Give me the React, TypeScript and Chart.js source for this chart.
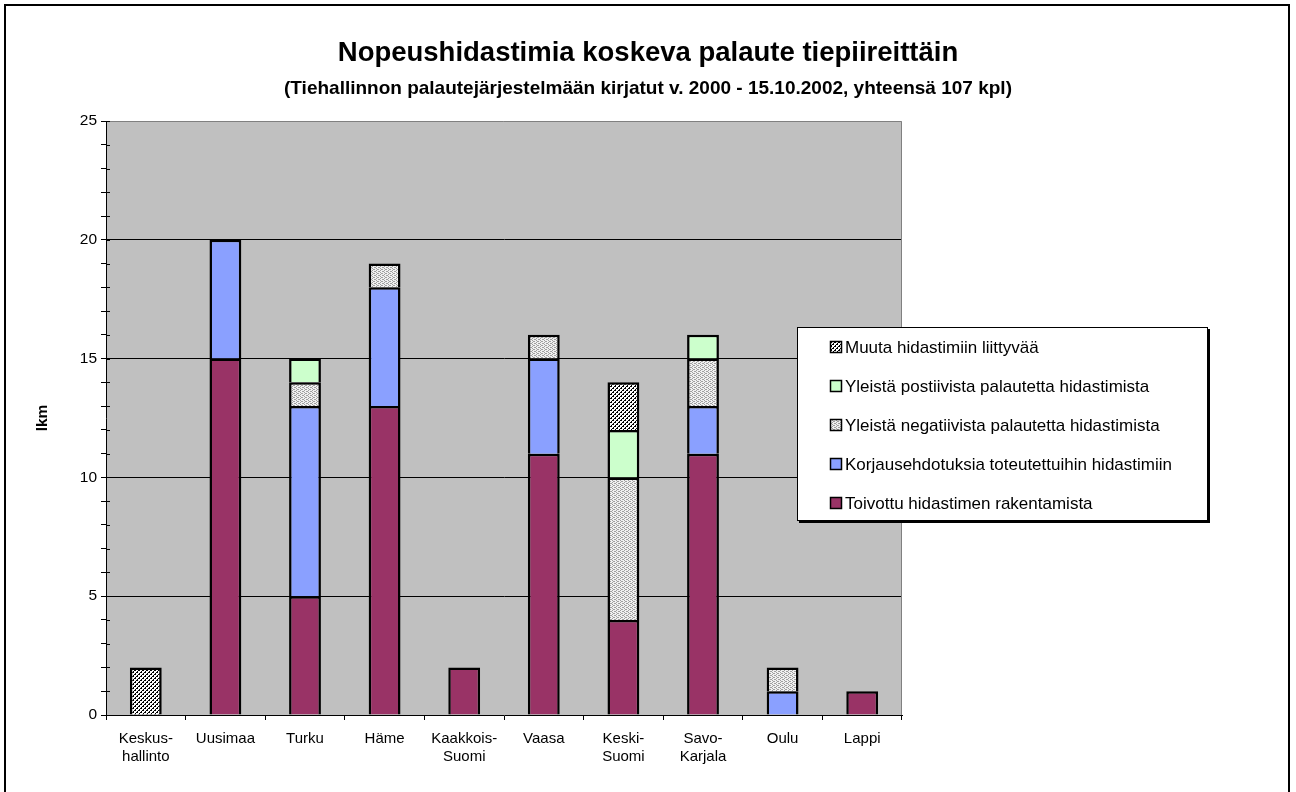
import React, { useEffect, useRef } from 'react';
import { Chart, registerables } from 'chart.js';

Chart.register(...registerables);

const categories: (string | string[])[] = [
  ['Keskus-', 'hallinto'],
  'Uusimaa',
  'Turku',
  'Häme',
  ['Kaakkois-', 'Suomi'],
  'Vaasa',
  ['Keski-', 'Suomi'],
  ['Savo-', 'Karjala'],
  'Oulu',
  'Lappi',
];

const toivottu = [0, 15, 5, 13, 2, 11, 4, 11, 0, 1];
const korjaus = [0, 5, 8, 5, 0, 4, 0, 2, 1, 0];
const negatiivista = [0, 0, 1, 1, 0, 1, 6, 2, 1, 0];
const positiivista = [0, 0, 1, 0, 0, 0, 2, 1, 0, 0];
const muuta = [2, 0, 0, 0, 0, 0, 2, 0, 0, 0];

const seriesNames = [
  'Toivottu hidastimen rakentamista',
  'Korjausehdotuksia toteutettuihin hidastimiin',
  'Yleistä negatiivista palautetta hidastimista',
  'Yleistä postiivista palautetta hidastimista',
  'Muuta hidastimiin liittyvää',
];

const titleText = 'Nopeushidastimia koskeva palaute tiepiireittäin';
const subtitleText = '(Tiehallinnon palautejärjestelmään kirjatut v. 2000 - 15.10.2002, yhteensä 107 kpl)';
const yTitle = 'lkm';
const yMin = 0;
const yMax = 25;
const yMajor = 5;

const FONT = "'Liberation Sans', Arial, sans-serif";

function makeHatch(): CanvasPattern | string {
  const c = document.createElement('canvas');
  c.width = 4;
  c.height = 4;
  const g = c.getContext('2d');
  if (!g) return '#555';
  g.fillStyle = '#ffffff';
  g.fillRect(0, 0, 4, 4);
  g.fillStyle = '#000000';
  for (let y = 0; y < 4; y++) {
    for (let x = 0; x < 4; x++) {
      const k = (x + y) % 4;
      if (k === 0 || (k === 1 && y % 2 === 0)) g.fillRect(x, y, 1, 1);
    }
  }
  return g.createPattern(c, 'repeat') || '#555';
}

function makeDots(): CanvasPattern | string {
  const c = document.createElement('canvas');
  c.width = 4;
  c.height = 4;
  const g = c.getContext('2d');
  if (!g) return '#d8d8d8';
  g.fillStyle = '#f0f0f0';
  g.fillRect(0, 0, 4, 4);
  g.fillStyle = '#a0a0a0';
  g.fillRect(0, 0, 1, 1);
  g.fillRect(2, 1, 1, 1);
  g.fillRect(0, 2, 1, 1);
  g.fillRect(2, 3, 1, 1);
  g.fillRect(1, 1, 1, 1);
  g.fillRect(3, 3, 1, 1);
  return g.createPattern(c, 'repeat') || '#d8d8d8';
}

const decorPlugin = {
  id: 'decor',
  beforeDraw(chart: any) {
    const { ctx, chartArea } = chart;
    ctx.save();
    ctx.fillStyle = '#ffffff';
    ctx.fillRect(0, 0, chart.width, chart.height);
    ctx.fillStyle = '#c0c0c0';
    ctx.fillRect(chartArea.left, chartArea.top, chartArea.right - chartArea.left, chartArea.bottom - chartArea.top);
    ctx.restore();
  },
  afterDraw(chart: any) {
    const { ctx, chartArea } = chart;
    ctx.save();
    // plot border top/right
    ctx.strokeStyle = '#808080';
    ctx.lineWidth = 1;
    ctx.beginPath();
    ctx.moveTo(chartArea.left, chartArea.top + 0.5);
    ctx.lineTo(chartArea.right - 0.5, chartArea.top + 0.5);
    ctx.lineTo(chartArea.right - 0.5, chartArea.bottom);
    ctx.stroke();

    // inner half of y tick marks
    const ys = chart.scales.y;
    ctx.strokeStyle = '#000';
    ctx.beginPath();
    for (let v = yMin; v <= yMax; v++) {
      const py = Math.round(ys.getPixelForValue(v)) + 0.5;
      ctx.moveTo(chartArea.left, py);
      ctx.lineTo(chartArea.left + 4, py);
    }
    ctx.stroke();

    // outer frame
    ctx.strokeStyle = '#000';
    ctx.lineWidth = 2;
    ctx.strokeRect(5, 5, 1284, 800);

    // titles
    ctx.fillStyle = '#000';
    ctx.textAlign = 'center';
    ctx.textBaseline = 'alphabetic';
    ctx.font = `bold 27.5px ${FONT}`;
    ctx.fillText(titleText, 648, 61);
    ctx.font = `bold 19px ${FONT}`;
    ctx.fillText(subtitleText, 648, 94);

    // legend
    const lx = 797, ly = 327, lw = 411, lh = 194;
    ctx.fillStyle = '#000';
    ctx.fillRect(lx + 2, ly + 2, lw, lh);
    ctx.fillStyle = '#fff';
    ctx.fillRect(lx, ly, lw, lh);
    ctx.strokeStyle = '#000';
    ctx.lineWidth = 1;
    ctx.strokeRect(lx + 0.5, ly + 0.5, lw - 1, lh - 1);
    const ds = chart.data.datasets;
    ctx.font = `17px ${FONT}`;
    ctx.textAlign = 'left';
    ctx.textBaseline = 'middle';
    for (let i = 0; i < ds.length; i++) {
      const d = ds[ds.length - 1 - i];
      const cy = ly + 20 + i * 39;
      ctx.fillStyle = d.backgroundColor;
      ctx.fillRect(lx + 33, cy - 6, 12, 12);
      ctx.strokeStyle = '#000';
      ctx.lineWidth = 1.5;
      ctx.strokeRect(lx + 33.5, cy - 5.5, 11, 11);
      ctx.fillStyle = '#000';
      ctx.fillText(d.label, lx + 48, cy + 1);
    }
    ctx.restore();
  },
};

export default function App() {
  const ref = useRef<HTMLCanvasElement | null>(null);
  useEffect(() => {
    if (!ref.current) return;
    const hatch = makeHatch();
    const dots = makeDots();
    const fills = ['#993366', '#8aa0ff', dots, '#ccffcc', hatch];
    const values = [toivottu, korjaus, negatiivista, positiivista, muuta];
    const chart = new Chart(ref.current, {
      type: 'bar',
      data: {
        labels: categories as any,
        datasets: values.map((vals, i) => ({
          label: seriesNames[i],
          data: vals,
          backgroundColor: fills[i] as any,
          borderColor: '#000',
          borderWidth: 2.5,
          inflateAmount: 0,
          borderSkipped: 'start',
          barPercentage: 0.4,
          categoryPercentage: 1,
        })),
      },
      options: {
        responsive: false,
        animation: false,
        events: [],
        layout: { padding: { left: 0, top: 121, right: 394, bottom: 17 } },
        plugins: { legend: { display: false }, title: { display: false }, tooltip: { enabled: false } },
        scales: {
          x: {
            stacked: true,
            afterFit: (s: any) => { s.height = 60; },
            ticks: { color: '#000', font: { family: FONT, size: 15, lineHeight: 1.25 }, padding: 9, maxRotation: 0, autoSkip: false },
            grid: { drawOnChartArea: false, tickLength: 5, tickColor: '#000', offset: true },
            border: { color: '#000', width: 1 },
          },
          y: {
            stacked: true,
            min: yMin,
            max: yMax,
            afterFit: (s: any) => { s.width = 106; },
            ticks: {
              stepSize: 1,
              autoSkip: false,
              color: '#000',
              font: { family: FONT, size: 15.5 },
              padding: 4,
              callback: (v: any) => (Number(v) % yMajor === 0 ? String(v) : ''),
            },
            grid: {
              color: (c: any) => {
                const v = c.tick ? c.tick.value : -1;
                return v % yMajor === 0 && v > yMin && v < yMax ? '#000' : 'rgba(0,0,0,0)';
              },
              tickColor: '#000',
              tickLength: 5,
            },
            border: { color: '#000', width: 1 },
            title: { display: true, text: yTitle, color: '#000', font: { family: FONT, size: 15.5, weight: 'bold' }, padding: { top: 33, bottom: 0 } },
          },
        },
      },
      plugins: [decorPlugin],
    });
    return () => chart.destroy();
  }, []);
  return (
    <div style={{ position: 'absolute', left: 0, top: 0, width: 1296, height: 792 }}>
      <canvas ref={ref} width={1296} height={792} style={{ display: 'block', width: 1296, height: 792 }} />
    </div>
  );
}
